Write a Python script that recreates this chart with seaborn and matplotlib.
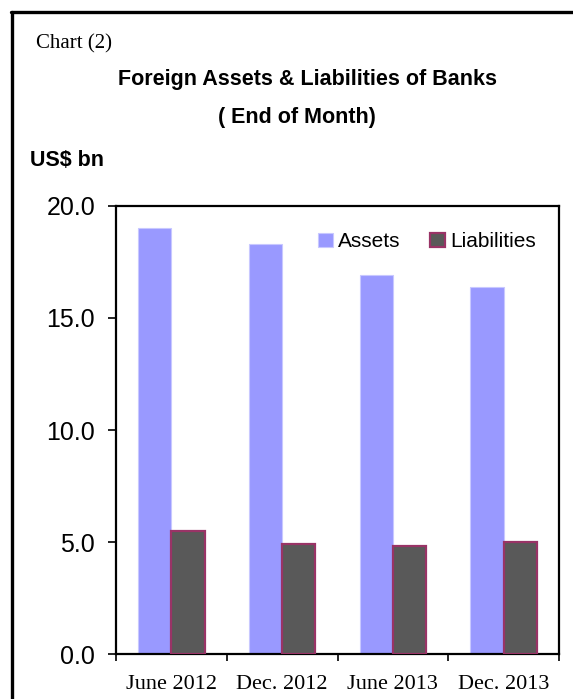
import matplotlib
matplotlib.use("Agg")
import matplotlib.pyplot as plt
from matplotlib.lines import Line2D
import seaborn as sns
import pandas as pd

# Data (US$ bn, end of month)
periods = ["June 2012", "Dec. 2012", "June 2013", "Dec. 2013"]
assets = [19.0, 18.3, 16.9, 16.4]
liabilities = [5.5, 4.9, 4.8, 5.0]
series_names = ["Assets", "Liabilities"]
y_ticks = [0, 5, 10, 15, 20]

df = pd.DataFrame({
    "period": periods * 2,
    "value": assets + liabilities,
    "series": [series_names[0]] * len(periods) + [series_names[1]] * len(periods),
})

sns.set_theme(style="white")
plt.rcParams["font.family"] = ["Liberation Sans", "DejaVu Sans"]
plt.rcParams["text.color"] = "black"
plt.rcParams["xtick.color"] = "black"
plt.rcParams["ytick.color"] = "black"
plt.rcParams["xtick.labelcolor"] = "black"
plt.rcParams["ytick.labelcolor"] = "black"

W, H = 573, 699
fig = plt.figure(figsize=(W / 100, H / 100), dpi=100)
fig.patch.set_facecolor("white")

def fx(px):
    return px / W

def fy(py):
    return 1 - py / H

ax = fig.add_axes([fx(116), fy(654), fx(559) - fx(116), fy(206) - fy(654)])

sns.barplot(data=df, x="period", y="value", hue="series", order=periods,
            hue_order=series_names, palette=["#9999FF", "#595959"],
            width=0.6, saturation=1, legend=False, ax=ax)

# bar outlines
for patch in ax.containers[0]:
    patch.set_edgecolor("#C8C8FF")
    patch.set_linewidth(0.8)
for patch in ax.containers[1]:
    patch.set_edgecolor("#993366")
    patch.set_linewidth(1.6)
    patch.set_zorder(3)

ax.set_ylim(0, 20)
ax.set_xlim(-0.5, len(periods) - 0.5)
ax.set_yticks(y_ticks)
ax.set_yticklabels([f"{v:.1f}" for v in y_ticks], fontsize=18, color="black")
ax.set_xlabel("")
ax.set_ylabel("")

# category boundary ticks, labels centred under each group
ax.set_xticks([i - 0.5 for i in range(len(periods) + 1)])
ax.set_xticklabels([])
ax.set_xticks(range(len(periods)), minor=True)
ax.set_xticklabels(periods, minor=True, fontsize=16, family="Liberation Serif",
                   color="black")
ax.tick_params(axis="x", which="major", direction="out", length=5, width=1.2,
               color="black", bottom=True)
ax.tick_params(axis="x", which="minor", length=0, pad=15, bottom=True)
ax.tick_params(axis="y", direction="out", length=6, width=1.2, color="black",
               left=True, pad=9)

for s in ax.spines.values():
    s.set_visible(True)
    s.set_color("black")
    s.set_linewidth(1.6)

leg = ax.legend(ax.containers, series_names, loc="upper right", ncol=2,
                frameon=False, fontsize=15, handlelength=0.72,
                handleheight=0.72, handletextpad=0.25, columnspacing=1.4,
                bbox_to_anchor=(0.981, 0.974), borderaxespad=0.3)
for t in leg.get_texts():
    t.set_color("black")

# texts
fig.text(fx(36), fy(44), "Chart (2)", fontsize=15, family="Liberation Serif",
         ha="left", va="center", color="black")
fig.text(fx(307), fy(80), "Foreign Assets & Liabilities of Banks",
         fontsize=15.5, fontweight="bold", ha="center", va="center",
         color="black")
fig.text(fx(297), fy(118), "( End of Month)", fontsize=15.5,
         fontweight="bold", ha="center", va="center", color="black")
fig.text(fx(30), fy(160), "US$ bn", fontsize=15.5, fontweight="bold",
         ha="left", va="center", color="black")

# outer frame (left and top edges)
fig.add_artist(Line2D([fx(11.5), fx(11.5)], [fy(11.5), 0], color="black",
                      linewidth=2.4, transform=fig.transFigure))
fig.add_artist(Line2D([fx(10.5), 1], [fy(11.5), fy(11.5)], color="black",
                      linewidth=2.4, transform=fig.transFigure))

fig.savefig("out.png", dpi=100)
